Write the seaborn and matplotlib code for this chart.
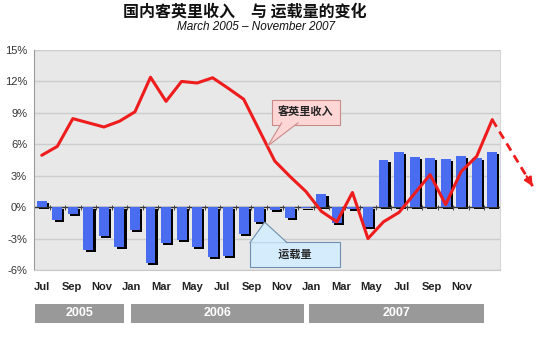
import numpy as np
import pandas as pd
import matplotlib
matplotlib.use("Agg")
import matplotlib.pyplot as plt
import seaborn as sns
from matplotlib.transforms import ScaledTranslation
from matplotlib.patches import Rectangle, Polygon

# ---------------- data ----------------
month_keys = ["2005-07", "2005-08", "2005-09", "2005-10", "2005-11", "2005-12",
              "2006-01", "2006-02", "2006-03", "2006-04", "2006-05", "2006-06",
              "2006-07", "2006-08", "2006-09", "2006-10", "2006-11", "2006-12",
              "2007-01", "2007-02", "2007-03", "2007-04", "2007-05", "2007-06",
              "2007-07", "2007-08", "2007-09", "2007-10", "2007-11", "2007-12"]
traffic = [0.6, -1.2, -0.7, -4.1, -2.8, -3.8, -2.2, -5.3, -3.4, -3.1,
           -3.8, -4.8, -4.7, -2.6, -1.4, -0.3, -1.0, -0.1, 1.3, -1.5,
           -0.2, -1.9, 4.5, 5.3, 4.8, 4.7, 4.6, 4.9, 4.7, 5.3]
revenue = [4.95, 5.8, 8.45, 8.05, 7.65, 8.2, 9.1, 12.4, 10.1, 12.0,
           11.85, 12.35, 11.35, 10.3, 7.35, 4.4, 2.9, 1.5, -0.4, -1.4,
           1.4, -3.0, -1.4, -0.5, 1.3, 3.1, 0.25, 3.4, 4.85, 8.35]
forecast_x = [29, 31.6]
forecast_y = [8.35, 2.0]
tick_labels = ["Jul", "Sep", "Nov", "Jan", "Mar", "May", "Jul", "Sep", "Nov",
               "Jan", "Mar", "May", "Jul", "Sep", "Nov"]
years = ["2005", "2006", "2007"]
title = "国内客英里收入\u3000与 运载量的变化"
subtitle = "March 2005 \u2013 November 2007"
label_revenue = "客英里收入"
label_traffic = "运载量"

df = pd.DataFrame({"idx": np.arange(len(month_keys)), "traffic": traffic, "revenue": revenue})

# ---------------- style ----------------
sns.set_style("white")
plt.rcParams["font.family"] = ["Liberation Sans", "Noto Sans CJK SC", "DejaVu Sans"]
CJK = ["Noto Sans CJK SC", "DejaVu Sans"]

W, H = 540, 346
fig = plt.figure(figsize=(W / 100, H / 100), dpi=100)
fig.patch.set_facecolor("white")
ax = fig.add_axes([34 / W, 1 - 270 / H, 466 / W, 220 / H])
ax.set_facecolor("#e8e8e8")

RED = "#ee1c1c"
BLUE = "#4a6cf0"

# shadow bars
sns.barplot(data=df, x="idx", y="traffic", color="black", width=0.64,
            saturation=1, ax=ax, zorder=2, errorbar=None, linewidth=0, edgecolor="none")
shadow = list(ax.patches)
off = ScaledTranslation(2.2 / 100, -2 / 100, fig.dpi_scale_trans)
for p in shadow:
    p.set_transform(ax.transData + off)
# main bars
sns.barplot(data=df, x="idx", y="traffic", color=BLUE, width=0.64,
            saturation=1, ax=ax, zorder=3, errorbar=None, linewidth=0, edgecolor="none")
# revenue line
sns.lineplot(data=df, x="idx", y="revenue", color=RED, lw=2.2, ax=ax, zorder=5)

# forecast dashed arrow
ax.plot(forecast_x, forecast_y, color=RED, lw=2, ls=(0, (3, 2)), clip_on=False, zorder=5)
fx0 = forecast_x[0] + (forecast_x[1] - forecast_x[0]) * 0.85
fy0 = forecast_y[0] + (forecast_y[1] - forecast_y[0]) * 0.85
ax.annotate("", xy=(forecast_x[1], forecast_y[1]), xytext=(fx0, fy0),
            arrowprops=dict(arrowstyle="-|>,head_length=0.5,head_width=0.25",
                            color=RED, lw=1.5, shrinkA=0, shrinkB=0),
            annotation_clip=False, zorder=5)

# axes
ax.set_xlim(-0.5, len(month_keys) - 0.5)
ax.set_ylim(-6, 15)
yt = np.arange(-6, 16, 3)
ax.set_yticks(yt)
ax.set_yticklabels([f"{v}%" for v in yt], fontsize=8, color="#333333")
ax.set_xticks(np.arange(len(tick_labels)) * 1.93)
ax.set_xticklabels(tick_labels, fontsize=8, fontweight="bold", color="#222222")
ax.tick_params(axis="both", length=0)
ax.tick_params(axis="x", pad=9)
ax.tick_params(axis="y", pad=5)
ax.set_xlabel("")
ax.set_ylabel("")
ax.yaxis.grid(True, color="#cccccc", lw=1)
ax.set_axisbelow(True)
ax.axhline(0, color="#333333", lw=1, zorder=2.5)
ax.vlines(np.arange(len(month_keys) + 1) - 0.5, -0.25, 0.25, color="#444444", lw=0.7, zorder=2.5)
ax.spines["top"].set_visible(False)
ax.spines["left"].set_color("#9a9a9a")
ax.spines["bottom"].set_color("#c8c8c8")
ax.spines["right"].set_color("#d6d6d6")


# callouts (box + wedge pointer)
def callout(text, center, base, tip, fc, ec):
    ax.text(center[0], center[1], text, ha="center", va="center", fontsize=8,
            fontweight="bold", family=CJK, zorder=6,
            bbox=dict(boxstyle="square,pad=0.55", fc=fc, ec=ec, lw=0.8))
    poly = [base[0], tip, base[1]]
    ax.add_patch(Polygon(poly, closed=True, fc=fc, ec="none", zorder=7))
    ax.plot([base[0][0], tip[0], base[1][0]], [base[0][1], tip[1], base[1][1]],
            color=ec, lw=0.8, zorder=7)


callout(label_revenue, (17.0, 9.05), [(15.45, 8.05), (16.5, 8.05)], (14.55, 5.84),
        "#ffd6d6", "#c98a8a")
callout("\u3000\u3000" + label_traffic + "\u3000\u3000", (16.28, -4.5),
        [(13.4, -3.4), (15.8, -3.4)], (14.35, -1.43), "#d4ecfc", "#6f8fb0")

# year bands
bands = [(35, 124), (131, 304), (309, 484)]
for (x0, x1), yr in zip(bands, years):
    fig.add_artist(Rectangle((x0 / W, 1 - 323 / H), (x1 - x0) / W, 19 / H,
                             transform=fig.transFigure, fc="#999999", ec="none"))
    fig.text((x0 + x1) / 2 / W, 1 - 313.5 / H, yr, color="white", fontsize=9,
             fontweight="bold", ha="center", va="center")

# titles
fig.text(245 / W, 1 - 12 / H, title, family=CJK, fontsize=11.5, fontweight="bold",
         ha="center", va="center", color="#111111")
fig.text(256 / W, 1 - 27.5 / H, subtitle, fontsize=8.5, style="italic",
         ha="center", va="center", color="#111111")

fig.savefig("out.png", dpi=100)
